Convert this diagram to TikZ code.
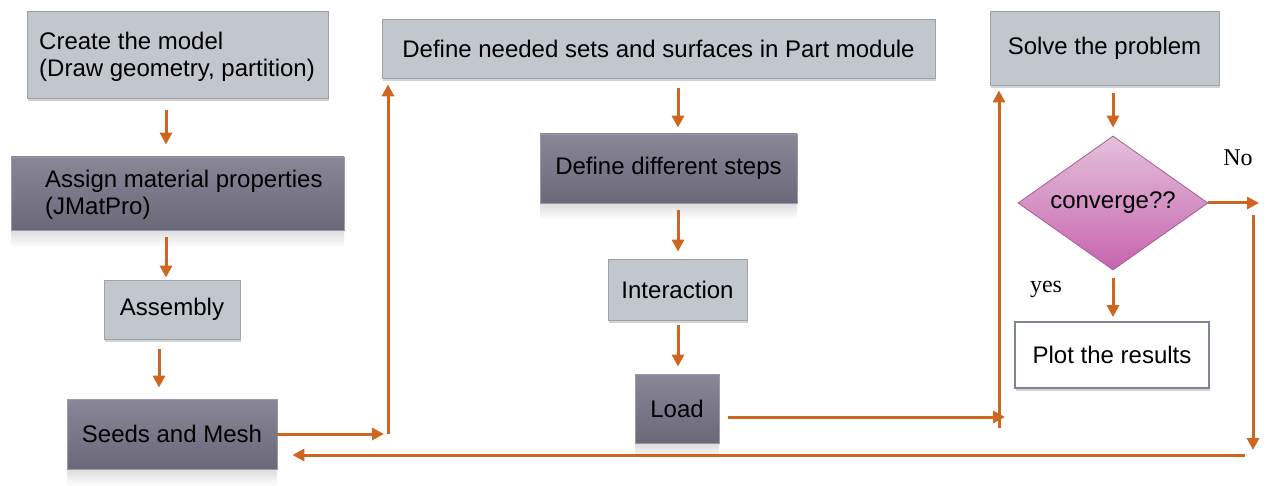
\documentclass[tikz,border=0pt]{standalone}
\usepackage{fontspec}
\setmainfont{Liberation Sans}
\newfontfamily\serifface{Liberation Serif}
\usetikzlibrary{arrows.meta,shapes.geometric,shadows,calc}
\definecolor{lightfill}{HTML}{C2C6CD}
\definecolor{lightdraw}{HTML}{9FA3A9}
\definecolor{darktop}{HTML}{888697}
\definecolor{darkbot}{HTML}{6A6879}
\definecolor{darkdraw}{HTML}{9C9AA8}
\definecolor{arrcol}{HTML}{CF661F}
\definecolor{pinktop}{HTML}{E4C0DB}
\definecolor{pinkbot}{HTML}{C664AE}
\definecolor{pinkdraw}{HTML}{A85C98}
\definecolor{plotdraw}{HTML}{7F8590}
\tikzset{
  lightbox/.style={rectangle, fill=lightfill, draw=lightdraw, line width=0.8pt, inner sep=0pt,
    drop shadow={shadow xshift=1pt, shadow yshift=-3pt, opacity=0.35}},
  darkbox/.style={rectangle, top color=darktop, bottom color=darkbot, draw=darkdraw, line width=0.8pt, inner sep=0pt},
  plotbox/.style={rectangle, fill=white, draw=plotdraw, line width=1.8pt, inner sep=0pt,
    drop shadow={shadow xshift=1pt, shadow yshift=-3pt, opacity=0.35}},
  refl/.style={top color=black!13, bottom color=white, draw=none},
  lbl/.style={font=\fontsize{24}{27}\selectfont, inner sep=0pt, align=left},
  yn/.style={font=\serifface\fontsize{24}{27}\selectfont, inner sep=0pt},
  arr/.style={draw=arrcol, line width=3pt, -{Triangle[length=12pt,width=12pt]}},
}
\begin{document}
\begin{tikzpicture}[x=1pt,y=-1pt]
\useasboundingbox (0,0) rectangle (1266,486);
% reflections
\shade[refl] (11,231) rectangle (344,247);
\shade[refl] (67,470) rectangle (277,486);
\shade[refl] (540,204) rectangle (797,219);
\shade[refl] (635,444) rectangle (719,459);
% boxes
\node[lightbox, minimum width=301pt, minimum height=87pt] (b1) at (177.5,54.5) {};
\node[lbl, anchor=west] (t1) at (39,57) {Create the model\\(Draw geometry, partition)};
\node[darkbox, minimum width=333pt, minimum height=73pt] (b2) at (177.5,193.5) {};
\node[lbl, anchor=west] (t2) at (45,195) {Assign material properties\\(JMatPro)};
\node[lightbox, minimum width=136pt, minimum height=59pt, lbl] (b3) at (172,309.5) {Assembly};
\node[darkbox, minimum width=210pt, minimum height=70pt, lbl] (b4) at (172,434) {Seeds and Mesh};
\node[lightbox, minimum width=553pt, minimum height=59pt, lbl] (b5) at (658.5,48.5) {Define needed sets and surfaces in Part module};
\node[darkbox, minimum width=257pt, minimum height=69pt, lbl] (b6) at (668.5,168.5) {Define different steps};
\node[lightbox, minimum width=139pt, minimum height=61pt, lbl] (b7) at (677.5,289.5) {Interaction};
\node[darkbox, minimum width=84pt, minimum height=69pt, lbl] (b8) at (677,408.5) {Load};
\node[lightbox, minimum width=229pt, minimum height=74pt, lbl] (b9) at (1104.5,48) {Solve the problem};
\node[diamond, aspect=1.418, top color=pinktop, bottom color=pinkbot, draw=pinkdraw, line width=0.8pt,
  minimum width=190pt, minimum height=134pt, inner sep=0pt, lbl] (d) at (1113,203) {converge??};
\node[plotbox, minimum width=194pt, minimum height=66pt, lbl] (b10) at (1112,355) {Plot the results};
\node[yn] (no) at (1238,158) {No};
\node[yn] (yes) at (1046,289) {yes};
% coordinates
\coordinate (c1) at (388,434);
\coordinate (c1e) at (384,434);
\coordinate (c2) at (999,428);
\coordinate (c2s) at (728,417);
\coordinate (c2e) at (1005,417);
\coordinate (c3) at (1259,203);
\coordinate (c4) at (1253,215);
\coordinate (c5) at (1253,450);
\coordinate (c6) at (1245,455);
% arrows
\draw[arr, shorten <=12pt, shorten >=12pt] ([xshift=-11.5pt]b1.south) -- ([xshift=-11.5pt]b2.north);
\draw[arr, shorten <=7pt, shorten >=2pt] ([xshift=-11.5pt]b2.south) -- ([xshift=-6pt]b3.north);
\draw[arr, shorten <=10pt, shorten >=11pt] ([xshift=-13pt]b3.south) -- ([xshift=-13pt]b4.north);
\draw[arr] (b4.east) -- (c1e);
\draw[arr, shorten >=6pt] (c1) -- (c1 |- b5.south);
\draw[arr, shorten <=10pt, shorten >=6pt] ([xshift=19.5pt]b5.south) -- ([xshift=9.5pt]b6.north);
\draw[arr, shorten <=7pt, shorten >=7pt] ([xshift=9.5pt]b6.south) -- ([xshift=0.5pt]b7.north);
\draw[arr, shorten <=5pt, shorten >=7pt] ([xshift=0.5pt]b7.south) -- ([xshift=1pt]b8.north);
\draw[arr] (c2s) -- (c2e);
\draw[arr, shorten >=5pt] (c2) -- (c2 |- b9.south);
\draw[arr, shorten <=8pt, shorten >=8pt] ([xshift=8.5pt]b9.south) -- (d.north);
\draw[arr, shorten <=8pt, shorten >=4pt] (d.south) -- ([xshift=1pt]b10.north);
\draw[arr] (d.east) -- (c3);
\draw[arr] (c4) -- (c5);
\draw[arr, shorten >=15pt] (c6) -- (b4.east |- c6);
\end{tikzpicture}
\end{document}
